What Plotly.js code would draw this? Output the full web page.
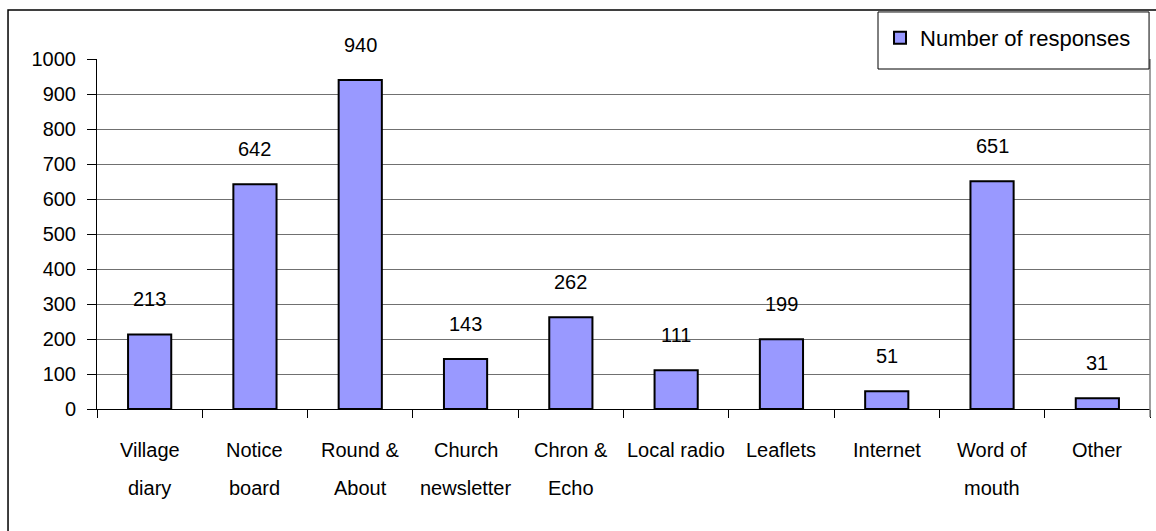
<!DOCTYPE html>
<html>
<head>
<meta charset="utf-8">
<script src="https://cdn.plot.ly/plotly-3.0.1.min.js"></script>
<style>html,body{margin:0;padding:0;background:#fff;overflow:hidden;}#chart{width:1156px;height:531px;}</style>
</head>
<body>
<div id="chart"></div>
<script>
const categories = ["Village diary","Notice board","Round & About","Church newsletter","Chron & Echo","Local radio","Leaflets","Internet","Word of mouth","Other"];
const values = [213, 642, 940, 143, 262, 111, 199, 51, 651, 31];
const labelLine1 = ["Village","Notice","Round &","Church","Chron &","Local radio","Leaflets","Internet","Word of","Other"];
const labelLine2 = ["diary","board","About","newsletter","Echo","","","","mouth",""];
const seriesName = "Number of responses";
const yTicks = [0,100,200,300,400,500,600,700,800,900,1000];

const FONT = "'Liberation Sans', Arial, sans-serif";

const annotations = [];
categories.forEach((c, i) => {
  annotations.push({x: c, y: values[i], xref: 'x', yref: 'y', text: String(values[i]),
    showarrow: false, yshift: 35, yanchor: 'middle', font: {family: FONT, size: 20, color: '#000'}});
  annotations.push({x: c, y: 0, xref: 'x', yref: 'y', text: labelLine1[i],
    showarrow: false, yshift: -41, yanchor: 'middle', font: {family: FONT, size: 20, color: '#000'}});
  if (labelLine2[i]) {
    annotations.push({x: c, y: 0, xref: 'x', yref: 'y', text: labelLine2[i],
      showarrow: false, yshift: -79, yanchor: 'middle', font: {family: FONT, size: 20, color: '#000'}});
  }
});

const trace = {
  type: 'bar', x: categories, y: values, name: seriesName, width: 0.41,
  marker: {color: '#9999FF', line: {color: '#000', width: 2}},
  showlegend: true, hoverinfo: 'x+y'
};

const layout = {
  width: 1156, height: 531,
  margin: {l: 97, r: 6, t: 59, b: 122.3, pad: 0, autoexpand: false},
  paper_bgcolor: '#fff', plot_bgcolor: '#fff',
  font: {family: FONT, size: 20, color: '#000'},
  xaxis: {type: 'category', range: [-0.5, 9.5], showticklabels: false, ticks: 'outside', tickson: 'boundaries',
    ticklen: 8, tickcolor: '#000', tickwidth: 1, showline: true, linecolor: '#000', linewidth: 1, showgrid: false, zeroline: false, fixedrange: true},
  yaxis: {range: [0, 1000], tickvals: yTicks, ticktext: yTicks.map(String), ticks: 'outside', ticklen: 9, tickcolor: '#000', tickwidth: 1,
    ticklabelstandoff: 7,
    showline: true, linecolor: '#000', linewidth: 1, showgrid: true, gridcolor: '#707070', gridwidth: 1, zeroline: false,
    tickfont: {family: FONT, size: 20, color: '#000'}, fixedrange: true},
  showlegend: true,
  legend: {x: 0.7436, xanchor: 'left', y: 1.06, yanchor: 'middle', bgcolor: 'rgba(0,0,0,0)', borderwidth: 0,
    font: {family: FONT, size: 22, color: '#000'}},
  shapes: [
    {type: 'rect', xref: 'paper', yref: 'paper', x0: -0.0845, x1: 1.02, y0: -0.4, y1: 1.14, line: {color: '#000', width: 1.5}, fillcolor: 'rgba(0,0,0,0)', layer: 'below'},
    {type: 'line', xref: 'paper', yref: 'paper', x0: 1, x1: 1, y0: -0.023, y1: 1, line: {color: '#808080', width: 1.5}, layer: 'above'},
    {type: 'rect', xref: 'paper', yref: 'paper', x0: 0.7417, x1: 0.9991, y0: 0.9714, y1: 1.1344, line: {color: '#000', width: 1}, fillcolor: '#fff', layer: 'above'}
  ],
  annotations: annotations
};

Plotly.newPlot('chart', [trace], layout, {displayModeBar: false, staticPlot: true});
</script>
</body>
</html>
